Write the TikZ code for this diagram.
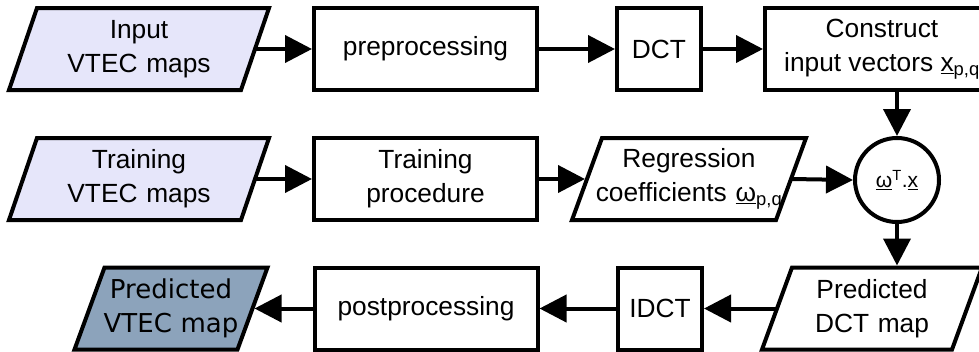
\documentclass[tikz,border=0pt]{standalone}
\usepackage{fontspec}
\setmainfont{Liberation Sans}
\newfontfamily\dvsans{DejaVu Sans}
\usetikzlibrary{arrows.meta,backgrounds}
\definecolor{lightin}{RGB}{230,230,250}
\definecolor{darkout}{RGB}{140,163,187}
\newcommand\paraoutline[3]{%
  \path[draw,line width=4pt,line join=miter,fill=#3]
    ([xshift=#2]#1.north west) -- ([xshift=#2]#1.north east) --
    ([xshift=-#2]#1.south east) -- ([xshift=-#2]#1.south west) -- cycle;}
\begin{document}
\begin{tikzpicture}[x=1pt,y=-1pt,
  every node/.style={font=\fontsize{26.3pt}{34pt}\selectfont, align=center, inner sep=0pt},
  procbox/.style={draw, line width=4pt, minimum height=82pt, fill=white},
  paratext/.style={minimum height=82pt, outer sep=0pt, text width=#1, minimum width=#1},
  sumcircle/.style={draw, circle, line width=4pt, minimum size=84pt},
  arr/.style={line width=4pt, -{Triangle[length=27pt,width=27pt]}},
  arrp/.style={arr, shorten >=2pt}]
\useasboundingbox (0,0) rectangle (979,351);
\clip (0,0) rectangle (979,351);
% row 1
\node[paratext=232pt] (in) at (139,49) {Input\\VTEC maps};
\node[procbox, minimum width=223pt] (pre) at (425.5,49) {preprocessing};
\node[procbox, minimum width=84pt] (dct) at (659,49) {DCT};
\node[procbox, minimum width=234pt] (con) at (882,49) {Construct\\input vectors \underline{x}\textsubscript{p,q}};
% row 2
\node[paratext=232pt] (tr) at (139,179) {Training\\VTEC maps};
\node[procbox, minimum width=223pt] (tp) at (425.5,179) {Training\\procedure};
\node[paratext=204pt] (reg) at (689,179) {Regression\\coefficients \underline{ω}\textsubscript{p,q}};
\node[sumcircle] (ci) at (897,180) {\fontsize{21pt}{24pt}\selectfont\underline{ω}\textsuperscript{T}.\underline{x}};
% row 3
\node[paratext=163pt, font=\dvsans\fontsize{26pt}{34pt}\selectfont] (pv) at (171,308.5) {Predicted\\VTEC map};
\node[procbox, minimum width=223pt] (post) at (426,308.5) {postprocessing};
\node[procbox, minimum width=84pt] (idct) at (660,308.5) {IDCT};
\node[paratext=190pt] (pd) at (872,308.5) {Predicted\\DCT map};
\begin{scope}[on background layer]
  \paraoutline{in}{14pt}{lightin}
  \paraoutline{tr}{14pt}{lightin}
  \paraoutline{reg}{15pt}{white}
  \paraoutline{pv}{15pt}{darkout}
  \paraoutline{pd}{15pt}{white}
\end{scope}
% connectors
\draw[arr] (in.east) -- (pre.west);
\draw[arr] (pre.east) -- (dct.west);
\draw[arr] (dct.east) -- (con.west);
\draw[arr] (con.south -| ci.north) -- (ci.north);
\draw[arr] (tr.east) -- (tp.west);
\draw[arrp] (tp.east) -- (reg.west);
\draw[arr] (reg.east) -- (ci.west);
\draw[arrp] (ci.south) -- (ci.south |- pd.north);
\draw[arr] (pd.west) -- (idct.east);
\draw[arr] (idct.west) -- (post.east);
\draw[arrp] (post.west) -- (pv.east);
\end{tikzpicture}
\end{document}
